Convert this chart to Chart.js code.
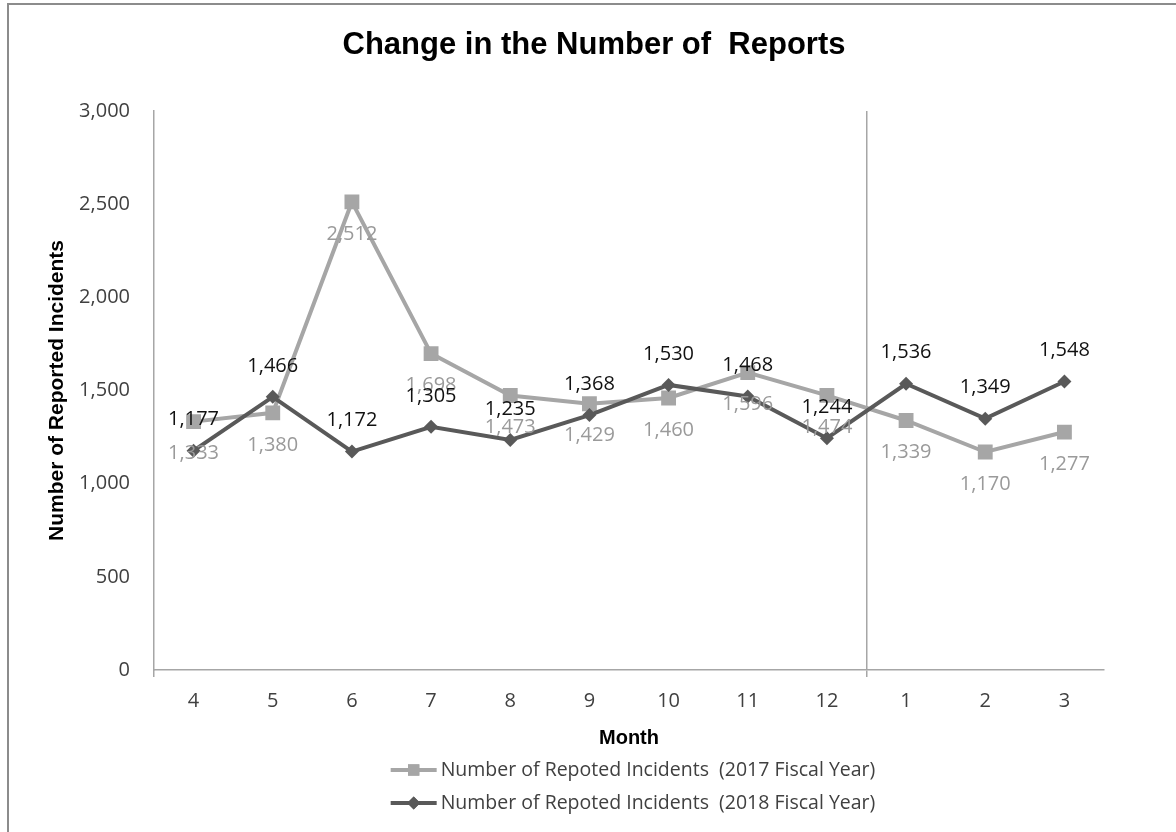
<!DOCTYPE html>
<html>
<head>
<meta charset="utf-8">
<title>Change in the Number of Reports</title>
<script src="https://cdn.jsdelivr.net/npm/chart.js@4.4.1/dist/chart.umd.min.js"></script>
<style>
  html, body { margin: 0; padding: 0; background: #fff; }
  #wrap { position: relative; width: 1176px; height: 832px; }
</style>
</head>
<body>
<div id="wrap"><canvas id="chart" width="1176" height="832"></canvas></div>
<script>
// Monthly report counts, fiscal year runs April -> March
const months = ['4', '5', '6', '7', '8', '9', '10', '11', '12', '1', '2', '3'];
const fy2017 = [1333, 1380, 2512, 1698, 1473, 1429, 1460, 1596, 1474, 1339, 1170, 1277];
const fy2018 = [1177, 1466, 1172, 1305, 1235, 1368, 1530, 1468, 1244, 1536, 1349, 1548];
const yTicks = [0, 500, 1000, 1500, 2000, 2500, 3000];
const chartTitle = 'Change in the Number of  Reports';

const AXIS_GRAY = '#a6a6a6';
const LIGHT = '#a6a6a6';
const DARK = '#595959';
const SANS = '"Open Sans", "Noto Sans", sans-serif';
const TICK_FONT = { family: SANS, size: 20 };
const BOLD_FONT = { family: '"Liberation Sans", Arial, sans-serif', weight: 'bold' };

// thin frame around the whole figure, plus the heading
const framePlugin = {
    id: 'frame',
    beforeDraw(chart) {
        const ctx = chart.ctx;
        ctx.save();
        ctx.fillStyle = '#fff';
        ctx.fillRect(0, 0, chart.width, chart.height);
        ctx.strokeStyle = '#8c8c8c';
        ctx.lineWidth = 2;
        ctx.strokeRect(8, 4, chart.width + 10, chart.height + 10);
        ctx.fillStyle = '#000';
        ctx.font = `bold 31px ${BOLD_FONT.family}`;
        ctx.textAlign = 'center';
        ctx.textBaseline = 'middle';
        ctx.fillText(chartTitle, 594, 45);
        ctx.restore();
    },
};

// value labels: older year under its points, newer year above
const valueLabels = {
    id: 'valueLabels',
    afterDatasetsDraw(chart) {
        const ctx = chart.ctx;
        ctx.save();
        ctx.font = `${TICK_FONT.size}px ${TICK_FONT.family}`;
        ctx.textAlign = 'center';
        ctx.textBaseline = 'middle';
        chart.data.datasets.forEach((ds, i) => {
            const meta = chart.getDatasetMeta(i);
            ctx.fillStyle = ds.labelColor;
            meta.data.forEach((pt, j) => {
                const text = ds.data[j].toLocaleString('en-US');
                ctx.fillText(text, pt.x, pt.y + ds.labelOffset);
            });
        });
        ctx.restore();
    },
};

// two-row legend under the axis title, line sample with marker
const bottomLegend = {
    id: 'bottomLegend',
    afterDraw(chart) {
        const ctx = chart.ctx;
        const rowY = [770, 803];
        ctx.save();
        ctx.font = `19.5px ${SANS}`;
        ctx.textBaseline = 'middle';
        chart.data.datasets.forEach((ds, i) => {
            const textW = ctx.measureText(ds.label).width;
            const total = 46 + 4 + textW;
            const x0 = 633 - total / 2;
            const y = rowY[i];
            ctx.strokeStyle = ds.borderColor;
            ctx.lineWidth = ds.borderWidth;
            ctx.beginPath();
            ctx.moveTo(x0, y);
            ctx.lineTo(x0 + 46, y);
            ctx.stroke();
            ctx.fillStyle = ds.pointBackgroundColor;
            Chart.helpers.drawPoint(ctx, {
                pointStyle: ds.pointStyle,
                radius: ds.legendRadius,
                borderWidth: 0,
            }, x0 + 23, y);
            ctx.fill();
            ctx.fillStyle = '#404040';
            ctx.fillText(ds.label, x0 + 50, y);
        });
        ctx.restore();
    },
};

new Chart(document.getElementById('chart'), {
    type: 'line',
    data: {
        labels: months,
        datasets: [
            {
                label: 'Number of Repoted Incidents  (2017 Fiscal Year)',
                data: fy2017,
                borderColor: LIGHT,
                backgroundColor: LIGHT,
                pointBackgroundColor: LIGHT,
                pointBorderColor: LIGHT,
                pointBorderWidth: 0,
                pointStyle: 'rect',
                pointRadius: 10.5,
                legendRadius: 8,
                borderWidth: 4,
                tension: 0,
                order: 2,
                labelColor: '#9a9a9a',
                labelOffset: 32,
            },
            {
                label: 'Number of Repoted Incidents  (2018 Fiscal Year)',
                data: fy2018,
                borderColor: DARK,
                backgroundColor: DARK,
                pointBackgroundColor: DARK,
                pointBorderColor: DARK,
                pointBorderWidth: 0,
                pointStyle: 'rectRot',
                pointRadius: 7,
                legendRadius: 6.5,
                borderWidth: 4,
                tension: 0,
                order: 1,
                labelColor: '#111',
                labelOffset: -31,
            },
        ],
    },
    options: {
        responsive: false,
        animation: false,
        events: [],
        layout: { padding: { left: 43, right: 72, top: 111, bottom: 80 } },
        plugins: {
            legend: { display: false },
            tooltip: { enabled: false },
            title: { display: false },
        },
        scales: {
            x: {
                offset: true,
                grid: {
                    offset: true,
                    color: (c) => (c.index === 9 ? AXIS_GRAY : 'transparent'),
                    tickColor: (c) => (c.index === 9 || c.index === 0 ? AXIS_GRAY : 'transparent'),
                    lineWidth: 1.5,
                    tickLength: 7,
                },
                border: { color: AXIS_GRAY, width: 1.5 },
                ticks: { font: TICK_FONT, color: '#404040', padding: 12, maxRotation: 0 },
                title: {
                    display: true,
                    text: 'Month',
                    color: '#000',
                    font: { ...BOLD_FONT, size: 20 },
                    padding: { top: 4, bottom: 2 },
                },
                afterFit: (s) => { s.height = 82; },
            },
            y: {
                min: 0,
                max: 3000,
                afterBuildTicks: (s) => { s.ticks = yTicks.map((v) => ({ value: v })); },
                grid: { drawOnChartArea: false, drawTicks: false },
                border: { color: AXIS_GRAY, width: 1.5 },
                ticks: {
                    font: TICK_FONT,
                    color: '#404040',
                    padding: 24,
                    callback: (v) => v.toLocaleString('en-US'),
                },
                title: {
                    display: true,
                    text: 'Number of Reported Incidents',
                    color: '#000',
                    font: { ...BOLD_FONT, size: 21 },
                    padding: { top: 2, bottom: 4 },
                },
                afterFit: (s) => { s.width = 111; },
            },
        },
    },
    plugins: [framePlugin, valueLabels, bottomLegend],
});
</script>
</body>
</html>
